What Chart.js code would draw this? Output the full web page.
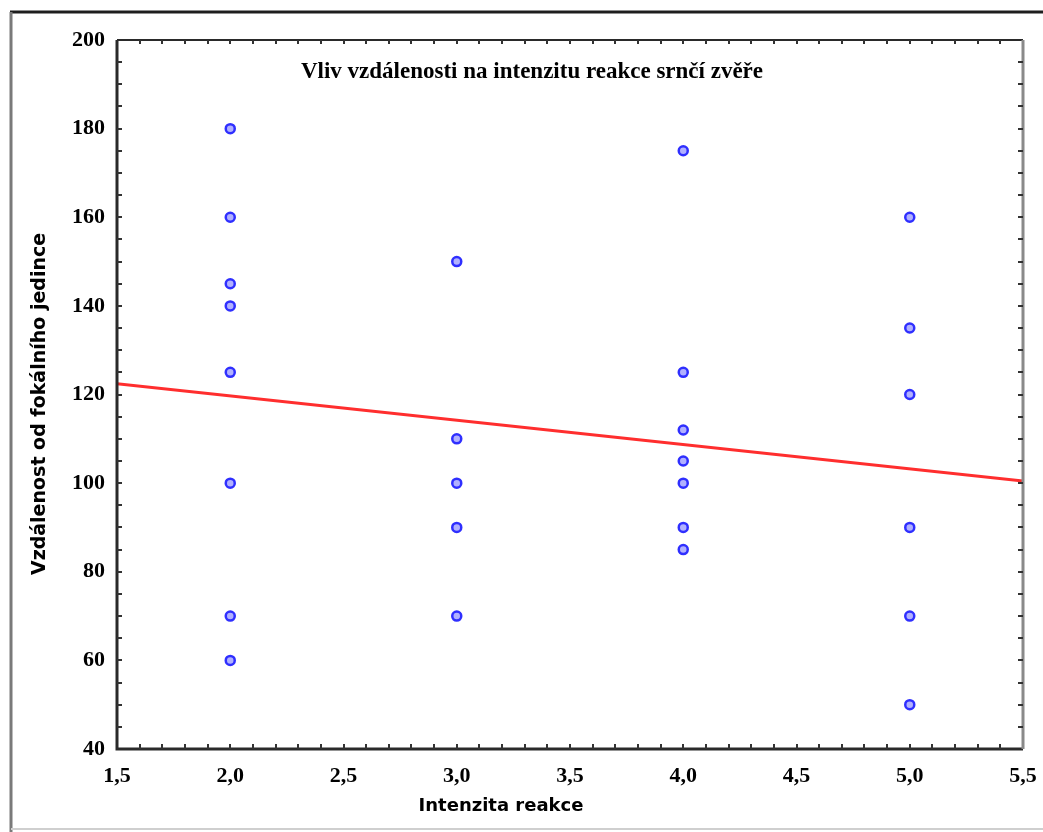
<!DOCTYPE html>
<html lang="cs">
<head>
<meta charset="utf-8">
<title>Vliv vzdálenosti na intenzitu reakce srnčí zvěře</title>
<script src="https://cdn.jsdelivr.net/npm/chart.js@4/dist/chart.umd.min.js"></script>
<style>
  html, body { margin: 0; padding: 0; background: #fff; }
  #wrap { position: relative; width: 1043px; height: 832px; }
</style>
</head>
<body>
<div id="wrap"><canvas id="reactionChart" width="1043" height="832"></canvas></div>
<script>
// --- DATA ---
const chartTitle = 'Vliv vzdálenosti na intenzitu reakce srnčí zvěře';
const xTitle = 'Intenzita reakce';
const yTitle = 'Vzdálenost od fokálního jedince';

const reactionLevels = [2, 3, 4, 5];
const distancesLevel2 = [180, 160, 145, 140, 125, 100, 70, 60];
const distancesLevel3 = [150, 110, 100, 90, 70];
const distancesLevel4 = [175, 125, 112, 105, 100, 90, 85];
const distancesLevel5 = [160, 135, 120, 90, 70, 50];

// regression line end points
const trendX = [1.5, 5.5];
const trendY = [122.4, 100.5];

const xTicks = [1.5, 2.0, 2.5, 3.0, 3.5, 4.0, 4.5, 5.0, 5.5];
const yTicks = [40, 60, 80, 100, 120, 140, 160, 180, 200];

// --- BUILD POINTS ---
const groups = [distancesLevel2, distancesLevel3, distancesLevel4, distancesLevel5];
const scatterPoints = [];
groups.forEach((vals, i) => {
    vals.forEach(v => scatterPoints.push({ x: reactionLevels[i], y: v }));
});
const trendPoints = trendX.map((x, i) => ({ x: x, y: trendY[i] }));

// --- FRAME, MINOR TICKS AND TEXT ---
const framePlugin = {
    id: 'frame',
    afterDraw(chart) {
        const ctx = chart.ctx;
        const a = chart.chartArea;
        const xs = chart.scales.x;
        const ys = chart.scales.y;
        ctx.save();

        // outer picture frame
        ctx.lineWidth = 3;
        ctx.strokeStyle = '#1e1e1e';
        ctx.beginPath(); ctx.moveTo(10, 12); ctx.lineTo(1043, 12); ctx.stroke();
        ctx.strokeStyle = '#7a7a7a';
        ctx.beginPath(); ctx.moveTo(11, 12); ctx.lineTo(11, 832); ctx.stroke();
        ctx.lineWidth = 2;
        ctx.strokeStyle = '#cfcfcf';
        ctx.beginPath(); ctx.moveTo(11, 829); ctx.lineTo(1043, 829); ctx.stroke();

        // plot box
        ctx.lineWidth = 3;
        ctx.strokeStyle = '#2a2a2a';
        ctx.beginPath();
        ctx.moveTo(a.left, a.top); ctx.lineTo(a.left, a.bottom); ctx.lineTo(a.right, a.bottom);
        ctx.stroke();
        ctx.lineWidth = 2;
        ctx.beginPath(); ctx.moveTo(a.left, a.top); ctx.lineTo(a.right, a.top); ctx.stroke();
        ctx.lineWidth = 3;
        ctx.strokeStyle = '#8a8a8a';
        ctx.beginPath(); ctx.moveTo(a.right, a.top); ctx.lineTo(a.right, a.bottom); ctx.stroke();

        // minor ticks pointing inwards
        ctx.strokeStyle = '#333';
        ctx.lineWidth = 2;
        for (let i = 16; i < 55; i++) {
            const px = Math.round(xs.getPixelForValue(i / 10));
            ctx.beginPath(); ctx.moveTo(px, a.bottom); ctx.lineTo(px, a.bottom - 5); ctx.stroke();
            ctx.beginPath(); ctx.moveTo(px, a.top); ctx.lineTo(px, a.top + 4); ctx.stroke();
        }
        for (let v = 45; v < 200; v += 5) {
            const py = Math.round(ys.getPixelForValue(v));
            ctx.beginPath(); ctx.moveTo(a.left, py); ctx.lineTo(a.left + 5, py); ctx.stroke();
            ctx.beginPath(); ctx.moveTo(a.right, py); ctx.lineTo(a.right - 5, py); ctx.stroke();
        }

        // chart title inside the plot
        ctx.fillStyle = '#000';
        ctx.textAlign = 'center';
        ctx.textBaseline = 'middle';
        ctx.font = 'bold 23px "Liberation Serif", serif';
        ctx.fillText(chartTitle, 532, 72);

        // axis titles
        ctx.font = 'bold 18px "DejaVu Sans", sans-serif';
        ctx.fillText(xTitle, 501, 806);
        ctx.save();
        ctx.translate(40, 404);
        ctx.rotate(-Math.PI / 2);
        ctx.font = 'bold 19px "DejaVu Sans", sans-serif';
        ctx.fillText(yTitle, 0, 0);
        ctx.restore();

        ctx.restore();
    }
};

// --- CHART ---
const ctx = document.getElementById('reactionChart').getContext('2d');
new Chart(ctx, {
    type: 'scatter',
    data: {
        datasets: [{
            label: 'Vzdálenost',
            data: scatterPoints,
            pointStyle: 'circle',
            pointRadius: 4.5,
            pointBorderWidth: 2.5,
            borderColor: '#2f2fff',
            backgroundColor: 'rgba(100, 100, 255, 0.5)',
            order: 1
        }, {
            label: 'Trend',
            type: 'line',
            data: trendPoints,
            borderColor: '#ff2e2e',
            borderWidth: 3,
            pointRadius: 0,
            fill: false,
            order: 2
        }]
    },
    plugins: [framePlugin],
    options: {
        responsive: false,
        animation: false,
        layout: { padding: { left: 0, top: 40, right: 20, bottom: 0 } },
        plugins: {
            legend: { display: false },
            tooltip: { enabled: false }
        },
        scales: {
            x: {
                type: 'linear',
                min: 1.5,
                max: 5.5,
                afterFit: s => { s.height = 83; s.paddingLeft = 0; s.paddingRight = 0; },
                afterBuildTicks: s => { s.ticks = xTicks.map(v => ({ value: v })); },
                grid: { display: false, drawTicks: false },
                border: { display: false },
                ticks: {
                    padding: 14,
                    color: '#000',
                    font: { family: '"Liberation Serif", serif', size: 22, weight: 'bold' },
                    callback: v => v.toFixed(1).replace('.', ',')
                }
            },
            y: {
                type: 'linear',
                min: 40,
                max: 200,
                afterFit: s => { s.width = 117; s.paddingTop = 0; s.paddingBottom = 0; },
                afterBuildTicks: s => { s.ticks = yTicks.map(v => ({ value: v })); },
                grid: { display: false, drawTicks: false },
                border: { display: false },
                ticks: {
                    padding: 12,
                    color: '#000',
                    font: { family: '"Liberation Serif", serif', size: 22, weight: 'bold' }
                }
            }
        }
    }
});
</script>
</body>
</html>
